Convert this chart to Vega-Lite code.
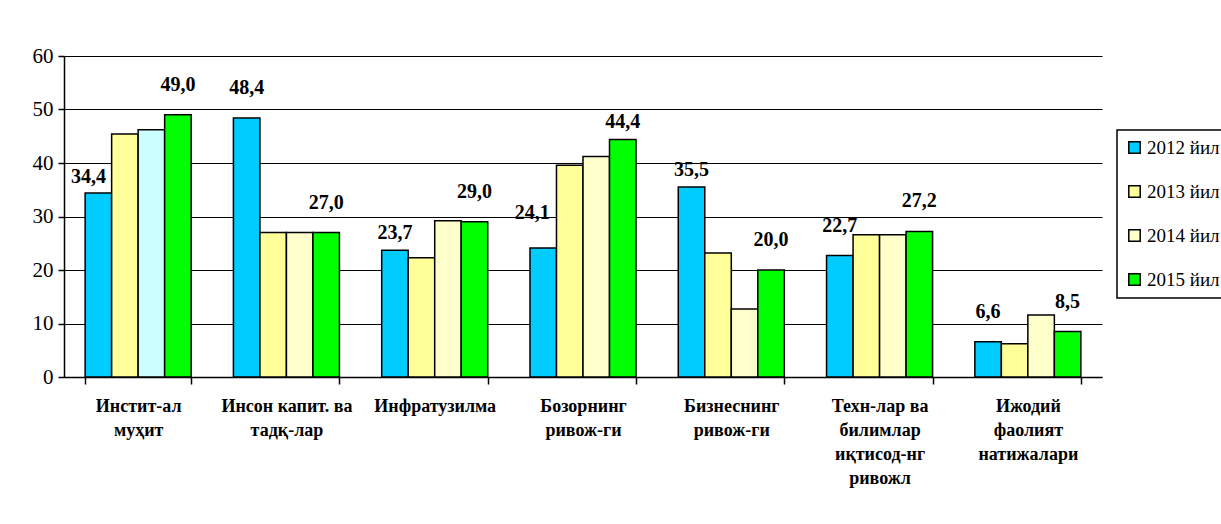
{
  "$schema": "https://vega.github.io/schema/vega-lite/v6.json",
  "autosize": "none",
  "width": 1038,
  "height": 321,
  "padding": {"left": 64, "top": 56, "right": 119, "bottom": 147},
  "background": "white",
  "config": {
    "view": {"stroke": null},
    "locale": {"number": {"decimal": ",", "thousands": " ", "grouping": [3], "currency": ["", ""]}},
    "font": "'Liberation Serif', 'Times New Roman', serif"
  },
  "data": {
    "values": [
      {"cat": "Инстит-ал муҳит", "year": "2012 йил", "value": 34.4},
      {"cat": "Инстит-ал муҳит", "year": "2013 йил", "value": 45.4},
      {"cat": "Инстит-ал муҳит", "year": "2014 йил", "value": 46.2},
      {"cat": "Инстит-ал муҳит", "year": "2015 йил", "value": 49.0},
      {"cat": "Инсон капит. ва тадқ-лар", "year": "2012 йил", "value": 48.4},
      {"cat": "Инсон капит. ва тадқ-лар", "year": "2013 йил", "value": 27.0},
      {"cat": "Инсон капит. ва тадқ-лар", "year": "2014 йил", "value": 27.0},
      {"cat": "Инсон капит. ва тадқ-лар", "year": "2015 йил", "value": 27.0},
      {"cat": "Инфратузилма", "year": "2012 йил", "value": 23.7},
      {"cat": "Инфратузилма", "year": "2013 йил", "value": 22.3},
      {"cat": "Инфратузилма", "year": "2014 йил", "value": 29.2},
      {"cat": "Инфратузилма", "year": "2015 йил", "value": 29.0},
      {"cat": "Бозорнинг ривож-ги", "year": "2012 йил", "value": 24.1},
      {"cat": "Бозорнинг ривож-ги", "year": "2013 йил", "value": 39.6},
      {"cat": "Бозорнинг ривож-ги", "year": "2014 йил", "value": 41.2},
      {"cat": "Бозорнинг ривож-ги", "year": "2015 йил", "value": 44.4},
      {"cat": "Бизнеснинг ривож-ги", "year": "2012 йил", "value": 35.5},
      {"cat": "Бизнеснинг ривож-ги", "year": "2013 йил", "value": 23.2},
      {"cat": "Бизнеснинг ривож-ги", "year": "2014 йил", "value": 12.7},
      {"cat": "Бизнеснинг ривож-ги", "year": "2015 йил", "value": 20.0},
      {"cat": "Техн-лар ва билимлар иқтисод-нг ривожл", "year": "2012 йил", "value": 22.7},
      {"cat": "Техн-лар ва билимлар иқтисод-нг ривожл", "year": "2013 йил", "value": 26.6},
      {"cat": "Техн-лар ва билимлар иқтисод-нг ривожл", "year": "2014 йил", "value": 26.6},
      {"cat": "Техн-лар ва билимлар иқтисод-нг ривожл", "year": "2015 йил", "value": 27.2},
      {"cat": "Ижодий фаолият натижалари", "year": "2012 йил", "value": 6.6},
      {"cat": "Ижодий фаолият натижалари", "year": "2013 йил", "value": 6.2},
      {"cat": "Ижодий фаолият натижалари", "year": "2014 йил", "value": 11.6},
      {"cat": "Ижодий фаолият натижалари", "year": "2015 йил", "value": 8.5}
    ]
  },
  "encoding": {
    "x": {
      "field": "cat", "type": "nominal", "sort": null,
      "scale": {"paddingInner": 0.285, "paddingOuter": 0.1425},
      "axis": {
        "title": null, "labelAngle": 0, "tickBand": "extent",
        "domainColor": "black", "domainWidth": 1.5, "tickColor": "black", "tickSize": 7, "tickWidth": 1.5,
        "labelFont": "'Liberation Serif', 'Times New Roman', serif", "labelFontWeight": "bold", "labelFontSize": 18, "labelColor": "black",
        "labelPadding": 13, "labelLineHeight": 24, "labelBaseline": "top", "labelLimit": 0,
        "labelExpr": "datum.label == 'Инсон капит. ва тадқ-лар' ? ['Инсон капит. ва', 'тадқ-лар'] : datum.label == 'Техн-лар ва билимлар иқтисод-нг ривожл' ? ['Техн-лар ва', 'билимлар', 'иқтисод-нг', 'ривожл'] : split(datum.label, ' ')"
      }
    },
    "xOffset": {"field": "year", "type": "nominal", "scale": {"domain": ["2012 йил", "2013 йил", "2014 йил", "2015 йил"], "paddingInner": 0, "paddingOuter": 0}},
    "y": {
      "field": "value", "type": "quantitative",
      "scale": {"domain": [0, 60], "nice": false},
      "axis": {
        "title": null, "values": [0, 10, 20, 30, 40, 50, 60], "grid": true, "gridColor": "black", "gridWidth": 1.2,
        "domainColor": "black", "domainWidth": 1.5, "tickColor": "black", "tickSize": 6, "tickWidth": 1.5,
        "labelFont": "'Liberation Serif', 'Times New Roman', serif", "labelFontSize": 21, "labelColor": "black", "labelPadding": 5
      }
    }
  },
  "layer": [
    {
      "mark": {"type": "bar", "stroke": "black", "strokeWidth": 1.5},
      "encoding": {
        "color": {
          "condition": {"test": "datum.cat == 'Инстит-ал муҳит' && datum.year == '2014 йил'", "value": "#CCFFFF"},
          "field": "year", "type": "nominal",
          "scale": {"domain": ["2012 йил", "2013 йил", "2014 йил", "2015 йил"], "range": ["#00CCFF", "#FFFF99", "#FFFFCC", "#00FF00"]},
          "legend": {
            "title": null, "orient": "none", "legendX": 1053, "legendY": 74,
            "symbolType": "square", "symbolSize": 130, "symbolStrokeColor": "black", "symbolStrokeWidth": 1.5,
            "labelFont": "'Liberation Serif', 'Times New Roman', serif", "labelFontSize": 19, "labelColor": "black", "labelOffset": 3,
            "rowPadding": 24, "padding": 8, "strokeColor": "black", "fillColor": "white",
            "encode": {"legend": {"update": {"strokeWidth": {"value": 1.5}}}}
          }
        }
      }
    },
    {
      "transform": [{"filter": "(datum.year == '2012 йил' || datum.year == '2015 йил') && !((datum.cat == 'Инфратузилма' && datum.year == '2012 йил') || (datum.cat == 'Бизнеснинг ривож-ги' && datum.year == '2012 йил') || (datum.cat == 'Бозорнинг ривож-ги') || (datum.cat == 'Инстит-ал муҳит' && datum.year == '2012 йил'))"}],
      "mark": {"type": "text", "baseline": "bottom", "dy": -20, "font": "'Liberation Serif', 'Times New Roman', serif", "fontWeight": "bold", "fontSize": 20, "color": "black"},
      "encoding": {"text": {"field": "value", "type": "quantitative", "format": ".1f"}}
    },
    {
      "transform": [{"filter": "(datum.cat == 'Инфратузилма' && datum.year == '2012 йил') || (datum.cat == 'Бизнеснинг ривож-ги' && datum.year == '2012 йил') || (datum.cat == 'Бозорнинг ривож-ги' && datum.year == '2015 йил')"}],
      "mark": {"type": "text", "baseline": "bottom", "dy": -7, "font": "'Liberation Serif', 'Times New Roman', serif", "fontWeight": "bold", "fontSize": 20, "color": "black"},
      "encoding": {"text": {"field": "value", "type": "quantitative", "format": ".1f"}}
    },
    {
      "transform": [{"filter": "datum.cat == 'Инстит-ал муҳит' && datum.year == '2012 йил'"}],
      "mark": {"type": "text", "baseline": "bottom", "dy": -6, "dx": -10, "font": "'Liberation Serif', 'Times New Roman', serif", "fontWeight": "bold", "fontSize": 20, "color": "black"},
      "encoding": {"text": {"field": "value", "type": "quantitative", "format": ".1f"}}
    },
    {
      "transform": [{"filter": "datum.cat == 'Бозорнинг ривож-ги' && datum.year == '2012 йил'"}],
      "mark": {"type": "text", "baseline": "bottom", "dy": -25, "dx": -11, "font": "'Liberation Serif', 'Times New Roman', serif", "fontWeight": "bold", "fontSize": 20, "color": "black"},
      "encoding": {"text": {"field": "value", "type": "quantitative", "format": ".1f"}}
    }
  ]
}
